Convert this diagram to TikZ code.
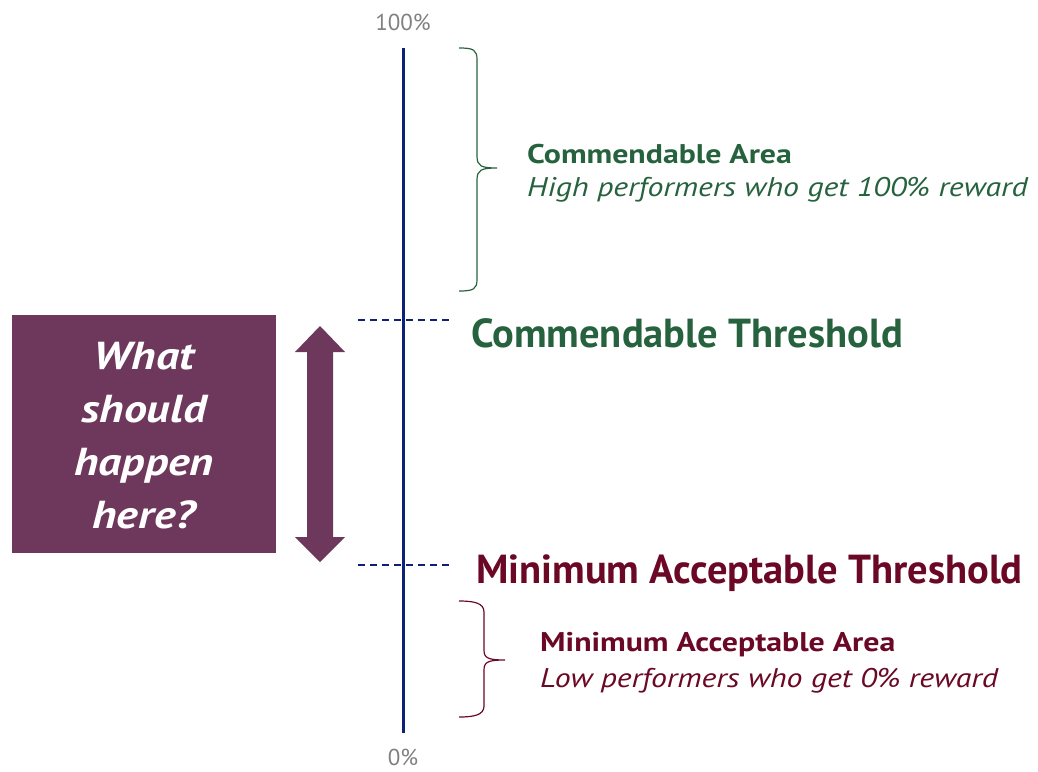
\documentclass[tikz,border=0pt]{standalone}
\usepackage{fontspec}
\setmainfont{PT Sans}
\newfontfamily\widefont[FakeStretch=1.18]{PT Sans}
\definecolor{axisblue}{RGB}{16,32,120}
\definecolor{cgreen}{RGB}{38,98,62}
\definecolor{mred}{RGB}{106,8,38}
\definecolor{boxpurple}{RGB}{110,56,92}
\definecolor{pctgray}{RGB}{128,128,128}
\tikzset{
  lbl/.style={inner sep=0pt, anchor=base west},
  pct/.style={inner sep=0pt, text=pctgray, font=\fontsize{23}{23}\selectfont},
  dashline/.style={axisblue, line width=1.4pt, dash pattern=on 7pt off 5pt},
  bracegreen/.style={cgreen, line width=1.2pt},
  bracered/.style={mred, line width=1.2pt},
  bigtxt/.style={lbl, font=\bfseries\fontsize{40.5}{40.5}\selectfont},
  areatxt/.style={lbl, font=\widefont\bfseries\fontsize{27}{27}\selectfont},
  desctxt/.style={lbl, font=\widefont\itshape\fontsize{27}{27}\selectfont},
}
\begin{document}
\begin{tikzpicture}[x=1pt, y=-1pt]
\useasboundingbox (0,0) rectangle (1038,771);
% axis
\coordinate (top) at (403,48);
\coordinate (bot) at (403,733);
\draw[axisblue, line width=3pt] (top) -- (bot);
\node[pct, anchor=base] (p100) at (403,30) {100\%};
\node[pct, anchor=base] (p0) at (403,765) {0\%};
% dashed thresholds
\coordinate (dc1) at (358,320); \coordinate (dc2) at (450,320);
\coordinate (dm1) at (358,565); \coordinate (dm2) at (450,565);
\draw[dashline] (dc1) -- (dc2);
\draw[dashline] (dm1) -- (dm2);
% upper brace
\draw[bracegreen] (459,48) .. controls (474,48) and (477,50) .. (477,60) -- (477,156)
  .. controls (477,166) and (481,168) .. (497,168)
  .. controls (481,168) and (477,170) .. (477,180) -- (477,279)
  .. controls (477,289) and (474,291) .. (459,291);
% lower brace
\draw[bracered] (459,601) .. controls (474,601) and (484,603) .. (484,612) -- (484,650)
  .. controls (484,658) and (488,660) .. (505,660)
  .. controls (488,660) and (484,662) .. (484,670) -- (484,706)
  .. controls (484,715) and (474,717) .. (459,717);
% texts
\node[areatxt, text=cgreen] (carea) at (527,163) {Commendable Area};
\node[desctxt, text=cgreen] (cdesc) at (527,196) {High performers who get 100\% reward};
\node[bigtxt, text=cgreen] (cthr) at (471,347) {Commendable Threshold};
\node[bigtxt, text=mred] (mthr) at (476,583) {Minimum Acceptable Threshold};
\node[areatxt, text=mred] (marea) at (540,651) {Minimum Acceptable Area};
\node[desctxt, text=mred] (mdesc) at (540,687) {Low performers who get 0\% reward};
% purple box
\fill[boxpurple] (12,315) rectangle (276,553);
\node[text=white, font=\widefont\bfseries\itshape\fontsize{39}{52.7}\selectfont, align=center, anchor=base, inner sep=0pt] (q) at (144,528)
  {What\\should\\happen\\here?};
% double arrow
\fill[boxpurple] (320,326) -- (345,352) -- (333,352) -- (333,537) -- (345,537) -- (320,562)
  -- (295,537) -- (307,537) -- (307,352) -- (295,352) -- cycle;
\end{tikzpicture}
\end{document}
